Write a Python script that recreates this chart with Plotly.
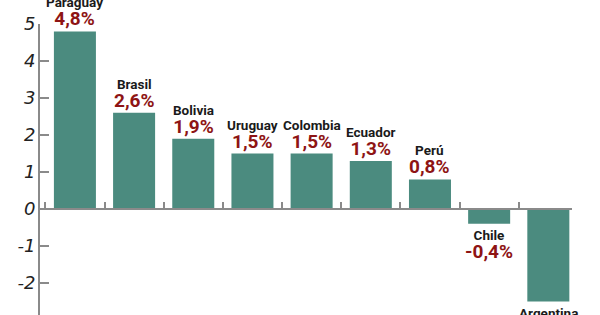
import plotly.graph_objects as go

countries = ["Paraguay", "Brasil", "Bolivia", "Uruguay", "Colombia", "Ecuador", "Perú", "Chile", "Argentina"]
growth = [4.8, 2.6, 1.9, 1.5, 1.5, 1.3, 0.8, -0.4, -2.5]
value_labels = ["4,8%", "2,6%", "1,9%", "1,5%", "1,5%", "1,3%", "0,8%", "-0,4%", "-2,5%"]
y_ticks = [-2, -1, 0, 1, 2, 3, 4, 5]

BAR = "#4b8b7f"
RED = "#8e1414"
AXIS = "#8a8a8a"

ymin, ymax = -2.865, 5.0

fig = go.Figure()
fig.add_trace(go.Bar(
    x=countries, y=growth, marker=dict(color=BAR, line=dict(width=0)),
    width=0.71, cliponaxis=False, hoverinfo="skip"))

anns = []
for c, v, lab in zip(countries, growth, value_labels):
    val = "<span style='font-size:19px;color:%s'><b>%s</b></span>" % (RED, lab)
    name = "<span style='font-size:13.5px'><b>%s</b></span>" % c
    text = name + "<br>" + val
    if v >= 0:
        anns.append(dict(x=c, y=v, text=text, showarrow=False, yanchor="bottom", yshift=-1,
                         font=dict(family="Roboto", size=14, color="#1a1a1a")))
    else:
        anns.append(dict(x=c, y=v, text=text, showarrow=False, yanchor="top", yshift=-1,
                         font=dict(family="Roboto", size=14, color="#1a1a1a")))

zero_pos = (0 - ymin) / (ymax - ymin)

fig.update_layout(
    width=600, height=315, margin=dict(l=40, r=28, t=24, b=0),
    paper_bgcolor="white", plot_bgcolor="white", showlegend=False,
    annotations=anns,
    xaxis=dict(range=[-0.59, 8.4], anchor="free", position=zero_pos,
               showline=True, linecolor=AXIS, linewidth=2,
               ticks="inside", tickson="boundaries", ticklen=6, tickcolor=AXIS, tickwidth=2,
               showticklabels=False, showgrid=False, zeroline=False),
    yaxis=dict(range=[ymin, ymax], tickvals=y_ticks, ticktext=[str(t) for t in y_ticks],
               showline=True, linecolor=AXIS, linewidth=2,
               ticks="inside", ticklen=9, tickcolor=AXIS, tickwidth=2,
               showgrid=False, zeroline=False, ticklabelstandoff=-1,
               tickfont=dict(family="DejaVu Sans", size=18, color="#222", style="italic")),
)

fig.write_html("out.html")
